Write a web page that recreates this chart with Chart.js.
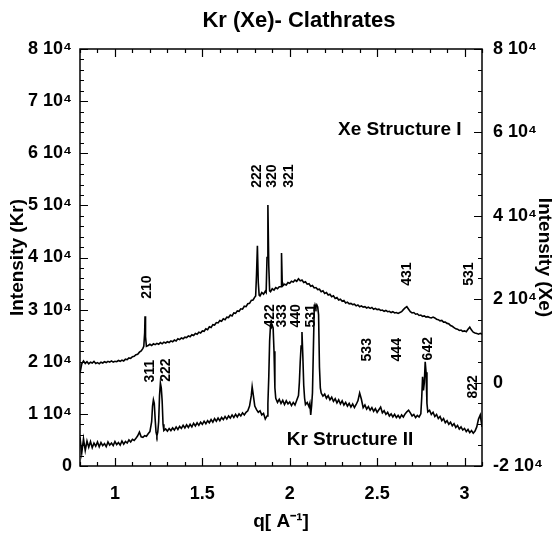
<!doctype html>
<html lang="en">
<head>
<meta charset="utf-8">
<title>Kr (Xe)- Clathrates</title>
<script src="https://cdn.jsdelivr.net/npm/chart.js@4.4.1/dist/chart.umd.min.js"></script>
<style>
  html, body { margin: 0; padding: 0; background: #fff; }
  #wrap { width: 556px; height: 544px; }
</style>
</head>
<body>
<div id="wrap"><canvas id="canvas" width="556" height="544"></canvas></div>
<script>
// q [1/A] and intensity
var xeData = [
  [0.80,2300],[0.81,4500],[0.82,5200],[0.83,4600],[0.84,5000],[0.85,4500],[0.86,4900],[0.87,4700],[0.88,5100],[0.89,4600],
  [0.90,4800],[0.91,4500],[0.92,4900],[0.93,4700],[0.94,5000],[0.95,4800],[0.96,5100],[0.97,4900],[0.98,5200],[0.99,4900],
  [1.00,5100],[1.01,5000],[1.02,5300],[1.03,5100],[1.04,5400],[1.05,5200],[1.06,5600],[1.07,5500],[1.08,5900],[1.09,5800],
  [1.10,6200],[1.11,6300],[1.12,6700],[1.13,6800],[1.14,7300],[1.15,7600],[1.16,8200],[1.165,8700],[1.17,12000],[1.172,15900],
  [1.175,11000],[1.18,8700],[1.19,8900],[1.20,9200],[1.21,8900],[1.22,9300],[1.23,9100],[1.24,9400],[1.25,9200],[1.26,9600],
  [1.27,9300],[1.28,9700],[1.29,9500],[1.30,9800],[1.31,9600],[1.32,10000],[1.33,9800],[1.34,10200],[1.35,10000],[1.36,10500],
  [1.37,10300],[1.38,10700],[1.39,10500],[1.40,10900],[1.41,10800],[1.42,11200],[1.43,11000],[1.44,11500],[1.45,11300],[1.46,11800],
  [1.47,11600],[1.48,12100],[1.49,11900],[1.50,12400],[1.51,12300],[1.52,12900],[1.53,12700],[1.54,13400],[1.55,13200],[1.56,13900],
  [1.57,13800],[1.58,14400],[1.59,14300],[1.60,14900],[1.61,14700],[1.62,15300],[1.63,15100],[1.64,15700],[1.65,15600],[1.66,16200],
  [1.67,16000],[1.68,16700],[1.69,16600],[1.70,17200],[1.71,17100],[1.72,17700],[1.73,17600],[1.74,18300],[1.75,18200],[1.76,18900],
  [1.77,19000],[1.78,19700],[1.79,19800],[1.80,20500],[1.805,20800],[1.81,26000],[1.815,32800],[1.82,24000],[1.825,21000],[1.83,20800],
  [1.84,21600],[1.85,21200],[1.86,21900],[1.865,21600],[1.87,30000],[1.875,42600],[1.88,28000],[1.885,22000],[1.89,21800],[1.90,22500],
  [1.91,22200],[1.92,22800],[1.93,22500],[1.94,23000],[1.95,23000],[1.953,31100],[1.957,24000],[1.96,23200],[1.97,23600],[1.98,23400],
  [1.99,24000],[2.00,23800],[2.01,24300],[2.02,24100],[2.03,24600],[2.04,24300],[2.05,24900],[2.06,24400],[2.07,24600],[2.08,24000],
  [2.09,24200],[2.10,23600],[2.11,23700],[2.12,23100],[2.13,23300],[2.14,22700],[2.15,22800],[2.16,22300],[2.17,22400],[2.18,21800],
  [2.19,22000],[2.20,21400],[2.21,21600],[2.22,21000],[2.23,21200],[2.24,20600],[2.25,20800],[2.26,20200],[2.27,20400],[2.28,19800],
  [2.29,20000],[2.30,19500],[2.31,19700],[2.32,19100],[2.33,19300],[2.34,18900],[2.35,19000],[2.36,18700],[2.37,18800],[2.38,18400],
  [2.39,18600],[2.40,18200],[2.41,18400],[2.42,18100],[2.43,18200],[2.44,17900],[2.45,18100],[2.46,17800],[2.47,18000],[2.48,17600],
  [2.49,17800],[2.50,17500],[2.51,17600],[2.52,17300],[2.53,17400],[2.54,17100],[2.55,17300],[2.56,17000],[2.57,17100],[2.58,16800],
  [2.59,17000],[2.60,16700],[2.61,16800],[2.62,16600],[2.63,16800],[2.64,17000],[2.65,17500],[2.66,17900],[2.67,18200],[2.68,17600],
  [2.69,17000],[2.70,16700],[2.71,16800],[2.72,16400],[2.73,16500],[2.74,16100],[2.75,16200],[2.76,15900],[2.77,16000],[2.78,15700],
  [2.79,15800],[2.80,15600],[2.81,15500],[2.82,15700],[2.83,15500],[2.84,15200],[2.85,15100],[2.86,14800],[2.87,14900],[2.88,14500],
  [2.89,14500],[2.90,14200],[2.91,14100],[2.92,13700],[2.93,13500],[2.94,13200],[2.95,12900],[2.96,12800],[2.97,12500],[2.98,12600],
  [2.99,12300],[3.00,12400],[3.01,12200],[3.02,12800],[3.03,13300],[3.04,12600],[3.05,12100],[3.06,11900],[3.07,11800],[3.08,11600],
  [3.09,11800],[3.10,11600]
];

var krData = [
  [0.80,5500],[0.81,2500],[0.82,5200],[0.83,3000],[0.84,4800],[0.85,3600],[0.86,4700],[0.87,3500],[0.88,4400],[0.89,3800],
  [0.90,4600],[0.91,3700],[0.92,4500],[0.93,3900],[0.94,4300],[0.95,3700],[0.96,4600],[0.97,4000],[0.98,4400],[0.99,3900],
  [1.00,4700],[1.01,4100],[1.02,4500],[1.03,4000],[1.04,4800],[1.05,4200],[1.06,4700],[1.07,4400],[1.08,5000],[1.09,4600],
  [1.10,5100],[1.11,4900],[1.12,5300],[1.13,5800],[1.14,6500],[1.15,5600],[1.16,5500],[1.17,5800],[1.18,5700],[1.19,6200],
  [1.20,6600],[1.21,8500],[1.215,11500],[1.22,12700],[1.225,12000],[1.23,9000],[1.235,6500],[1.24,5800],[1.245,6500],[1.25,8500],
  [1.255,13500],[1.26,15900],[1.265,15000],[1.27,12500],[1.275,8000],[1.28,6800],[1.29,7100],[1.30,6700],[1.31,7200],[1.32,6800],
  [1.33,7300],[1.34,6900],[1.35,7500],[1.36,7000],[1.37,7600],[1.38,7200],[1.39,7800],[1.40,7300],[1.41,7900],[1.42,7400],
  [1.43,8000],[1.44,7500],[1.45,8200],[1.46,7700],[1.47,8300],[1.48,7800],[1.49,8400],[1.50,8000],[1.51,8600],[1.52,8100],
  [1.53,8700],[1.54,8300],[1.55,8900],[1.56,8400],[1.57,9100],[1.58,8600],[1.59,9200],[1.60,8700],[1.61,9300],[1.62,8900],
  [1.63,9500],[1.64,9000],[1.65,9600],[1.66,9200],[1.67,9800],[1.68,9300],[1.69,9900],[1.70,9400],[1.71,10000],[1.72,9600],
  [1.73,10200],[1.74,9800],[1.75,10300],[1.76,10600],[1.77,11500],[1.78,13500],[1.785,15200],[1.79,14000],[1.80,11500],[1.81,10800],
  [1.82,10300],[1.83,10600],[1.84,9800],[1.85,10100],[1.86,9000],[1.87,9600],[1.875,12000],[1.88,17000],[1.885,24000],[1.89,27000],
  [1.895,26600],[1.90,27000],[1.905,26500],[1.91,22000],[1.915,15000],[1.92,13000],[1.93,12200],[1.94,12800],[1.95,12000],[1.96,12600],
  [1.97,11800],[1.98,12500],[1.99,11900],[2.00,12300],[2.01,11600],[2.02,12200],[2.03,11700],[2.04,12600],[2.05,13500],[2.055,16000],
  [2.06,20000],[2.065,23000],[2.07,25700],[2.075,21000],[2.08,15500],[2.085,13000],[2.09,11800],[2.10,12200],[2.11,11400],[2.115,12000],
  [2.12,9800],[2.125,11500],[2.13,14000],[2.135,22000],[2.14,30000],[2.145,30900],[2.15,30400],[2.155,30900],[2.16,30500],[2.165,29000],
  [2.17,19000],[2.175,15000],[2.18,14000],[2.19,13400],[2.20,13800],[2.21,13000],[2.22,13500],[2.23,12700],[2.24,13200],[2.25,12400],
  [2.26,12900],[2.27,12100],[2.28,12700],[2.29,11900],[2.30,12500],[2.31,11700],[2.32,12200],[2.33,11500],[2.34,12000],[2.35,11300],
  [2.36,11900],[2.37,11200],[2.38,11800],[2.39,12500],[2.40,14000],[2.41,12800],[2.42,11200],[2.43,11700],[2.44,10900],[2.45,11400],
  [2.46,10700],[2.47,11200],[2.48,10500],[2.49,11000],[2.50,10300],[2.51,10800],[2.52,11300],[2.53,10200],[2.54,10600],[2.55,9900],
  [2.56,10300],[2.57,9600],[2.58,10000],[2.59,9400],[2.60,9900],[2.61,9300],[2.62,9700],[2.63,9200],[2.64,9800],[2.65,9400],
  [2.66,10000],[2.67,10400],[2.68,10700],[2.69,10200],[2.70,9600],[2.71,9900],[2.72,9300],[2.73,9700],[2.74,9400],[2.75,10000],
  [2.755,13000],[2.76,17100],[2.765,14500],[2.77,16000],[2.775,20000],[2.78,18000],[2.785,12000],[2.79,10400],[2.80,10700],[2.81,9900],
  [2.82,10300],[2.83,9500],[2.84,9900],[2.85,9100],[2.86,9500],[2.87,8700],[2.88,9100],[2.89,8300],[2.90,8700],[2.91,8000],
  [2.92,8400],[2.93,7700],[2.94,8100],[2.95,7400],[2.96,7800],[2.97,7100],[2.98,7500],[2.99,6900],[3.00,7200],[3.01,6600],
  [3.02,7000],[3.03,6400],[3.04,6800],[3.05,6300],[3.06,6700],[3.07,7500],[3.08,9000],[3.09,9800],[3.10,7500]
];

var qTicks = [1, 1.5, 2, 2.5, 3];
var krTicks = [0, 10000, 20000, 30000, 40000, 50000, 60000, 70000, 80000];
var xeTicks = [-20000, 0, 20000, 40000, 60000, 80000];

// reflection labels: text, q, intensity on that pattern's axis
var xeHkl = [['210', 1.183, 22900], ['222', 1.813, 49500], ['320', 1.898, 49500], ['321', 1.996, 49500],
             ['431', 2.671, 26000], ['531', 3.025, 26000]];
var krHkl = [['311', 1.200, 18200], ['222', 1.292, 18400], ['422', 1.887, 28800], ['333', 1.956, 28800],
             ['440', 2.036, 28800], ['531', 2.122, 28800], ['533', 2.442, 22300], ['444', 2.614, 22300],
             ['642', 2.791, 22500], ['822', 3.048, 15200]];

var fam = '"Liberation Sans", Arial, Helvetica, sans-serif';

function sci(v) {
  if (v === 0) return '0';
  return (v / 10000) + ' 10\u2074';
}

var decor = {
  id: 'decor',
  afterDraw: function(chart) {
    var ctx = chart.ctx, a = chart.chartArea;
    var x = chart.scales.x, yk = chart.scales.yKr, yx = chart.scales.yXe;
    ctx.save();
    ctx.strokeStyle = '#000';
    ctx.fillStyle = '#000';

    // minor / major ticks pointing inwards
    ctx.lineWidth = 1.2;
    ctx.beginPath();
    for (var i = 8; i <= 31; i++) {
      var px = Math.round(x.getPixelForValue(i / 10)) + 0.5;
      var len = i % 5 === 0 ? 8 : 4;
      ctx.moveTo(px, a.bottom); ctx.lineTo(px, a.bottom - len);
      ctx.moveTo(px, a.top); ctx.lineTo(px, a.top + len);
    }
    for (var j = 0; j <= 40; j++) {
      var py = Math.round(yk.getPixelForValue(j * 2000)) + 0.5;
      var l2 = j % 5 === 0 ? 8 : 4;
      ctx.moveTo(a.left, py); ctx.lineTo(a.left + l2, py);
    }
    for (var k = -4; k <= 16; k++) {
      var py2 = Math.round(yx.getPixelForValue(k * 5000)) + 0.5;
      var l3 = k % 4 === 0 ? 8 : 4;
      ctx.moveTo(a.right, py2); ctx.lineTo(a.right - l3, py2);
    }
    ctx.stroke();

    ctx.lineWidth = 1.5;
    ctx.strokeRect(a.left, a.top, a.right - a.left, a.bottom - a.top);

    // title
    ctx.textAlign = 'center';
    ctx.textBaseline = 'middle';
    ctx.font = 'bold 22px ' + fam;
    ctx.fillText('Kr (Xe)- Clathrates', 299, 21);

    // structure captions
    ctx.font = 'bold 19px ' + fam;
    ctx.fillText('Xe Structure I', x.getPixelForValue(2.63), yk.getPixelForValue(64500));
    ctx.fillText('Kr Structure II', x.getPixelForValue(2.345), yk.getPixelForValue(5000));

    // hkl labels, rotated
    ctx.font = 'bold 14px ' + fam;
    function vlabel(t, px, py) {
      ctx.save();
      ctx.translate(px, py);
      ctx.rotate(-Math.PI / 2);
      ctx.fillText(t, 0, 0);
      ctx.restore();
    }
    xeHkl.forEach(function(h) { vlabel(h[0], x.getPixelForValue(h[1]), yx.getPixelForValue(h[2])); });
    krHkl.forEach(function(h) { vlabel(h[0], x.getPixelForValue(h[1]), yk.getPixelForValue(h[2])); });
    ctx.restore();
  }
};

var tickFont = { family: fam, size: 18, weight: 'bold' };
var titleFont = { family: fam, size: 19, weight: 'bold' };

new Chart(document.getElementById('canvas'), {
  type: 'line',
  data: {
    datasets: [{
      label: 'Xe Structure I',
      data: xeData.map(function(p) { return { x: p[0], y: p[1] }; }),
      yAxisID: 'yXe',
      borderColor: '#000',
      borderWidth: 1.6,
      pointRadius: 0,
      tension: 0
    }, {
      label: 'Kr Structure II',
      data: krData.map(function(p) { return { x: p[0], y: p[1] }; }),
      yAxisID: 'yKr',
      borderColor: '#000',
      borderWidth: 1.6,
      pointRadius: 0,
      tension: 0
    }]
  },
  options: {
    responsive: false,
    animation: false,
    layout: { padding: { top: 49, left: 0, right: 0, bottom: 0 } },
    plugins: { legend: { display: false }, tooltip: { enabled: false } },
    scales: {
      x: {
        type: 'linear', min: 0.8, max: 3.1,
        grid: { display: false, drawTicks: false },
        border: { display: false },
        afterBuildTicks: function(s) { s.ticks = qTicks.map(function(v) { return { value: v }; }); },
        afterFit: function(s) { s.height = 78; },
        ticks: { autoSkip: false, maxRotation: 0, padding: 17, color: '#000', font: tickFont,
                 callback: function(v) { return String(v); } },
        title: { display: true, text: 'q[ A\u207B\u00B9]', color: '#000', font: titleFont, padding: { top: 0, bottom: 11 } }
      },
      yKr: {
        type: 'linear', position: 'left', min: 0, max: 80000,
        grid: { display: false, drawTicks: false },
        border: { display: false },
        afterBuildTicks: function(s) { s.ticks = krTicks.map(function(v) { return { value: v }; }); },
        afterFit: function(s) { s.width = 80; },
        ticks: { autoSkip: false, padding: 8, color: '#000', font: tickFont, callback: sci },
        title: { display: true, text: 'Intensity (Kr)', color: '#000', font: titleFont, padding: { top: 6, bottom: 0 } }
      },
      yXe: {
        type: 'linear', position: 'right', min: -20000, max: 80000,
        grid: { display: false, drawTicks: false },
        border: { display: false },
        afterBuildTicks: function(s) { s.ticks = xeTicks.map(function(v) { return { value: v }; }); },
        afterFit: function(s) { s.width = 74; },
        ticks: { autoSkip: false, padding: 11, color: '#000', font: tickFont, callback: sci },
        title: { display: true, text: 'Intensity (Xe)', color: '#000', font: titleFont, padding: { top: 0, bottom: 0 } }
      }
    }
  },
  plugins: [decor]
});
</script>
</body>
</html>
